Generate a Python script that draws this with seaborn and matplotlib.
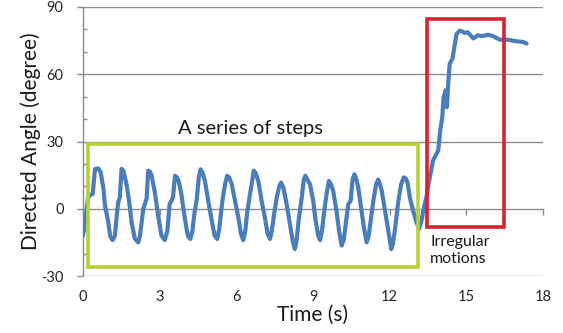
import matplotlib
matplotlib.use("Agg")
import matplotlib.pyplot as plt
import seaborn as sns
import pandas as pd
from matplotlib.patches import Rectangle
from matplotlib.ticker import MultipleLocator

# ---- data ----
time_s = [0.0, 0.1, 0.2, 0.27, 0.38, 0.47, 0.6, 0.69, 0.8, 0.86, 0.99, 1.06, 1.16, 1.25,
          1.32, 1.38, 1.44, 1.51, 1.58, 1.71, 1.81, 1.9, 2.03, 2.16, 2.23, 2.36, 2.49,
          2.55, 2.62, 2.68, 2.81, 2.94, 3.07, 3.2, 3.3, 3.39, 3.52, 3.6, 3.68, 3.75,
          3.85, 3.98, 4.1, 4.2, 4.28, 4.36, 4.45, 4.53, 4.6, 4.68, 4.77, 4.9, 5.05,
          5.15, 5.25, 5.33, 5.4, 5.46, 5.56, 5.64, 5.72, 5.82, 5.95, 6.08, 6.18, 6.27,
          6.35, 6.42, 6.5, 6.6, 6.68, 6.75, 6.86, 6.99, 7.12, 7.22, 7.32, 7.4, 7.47,
          7.58, 7.68, 7.75, 7.84, 7.97, 8.1, 8.2, 8.29, 8.36, 8.44, 8.56, 8.64, 8.7,
          8.8, 8.88, 9.01, 9.1, 9.2, 9.28, 9.36, 9.43, 9.53, 9.62, 9.7, 9.79, 9.92,
          10.02, 10.12, 10.2, 10.3, 10.38, 10.47, 10.55, 10.62, 10.7, 10.77, 10.9,
          11.0, 11.1, 11.18, 11.26, 11.36, 11.47, 11.55, 11.62, 11.69, 11.82, 11.95,
          12.06, 12.12, 12.2, 12.34, 12.45, 12.55, 12.63, 12.7, 12.79, 12.92, 13.05,
          13.15, 13.25, 13.35, 13.44, 13.57, 13.7, 13.9, 13.98, 14.06, 14.11, 14.19,
          14.24, 14.29, 14.35, 14.46, 14.53, 14.62, 14.75, 14.85, 14.94, 15.05, 15.15,
          15.27, 15.46, 15.6, 15.86, 16.05, 16.31, 16.64, 16.97, 17.23, 17.36]
angle_deg = [-12, -4, 5, 6, 6.7, 17.8, 18, 16.3, 9, 1.5, -6, -12, -14, -12,
             -3, 3, 5, 17.8, 17, 10.4, 3, -6, -13.4, -15, -12, 0, 4.5,
             17, 16.5, 15, 7.4, -3, -12, -14, -10, 2, 5, 14.7, 14, 12,
             6.5, -4, -12, -13.5, -10, -2, 4, 14, 17.6, 16, 12.4, 3.5, -6,
             -12, -13.5, -9, -2, 4, 11, 14.7, 14, 11, 3.5, -4, -11, -14,
             -10, -2, 4, 11, 17, 16, 12.4, 3.5, -4, -11, -13.5, -9, -3,
             5, 10, 11.7, 9.5, 2, -7, -14, -18, -14, -5, 5, 13, 14.7,
             12.5, 11, 3.5, -5, -12, -14, -9, -2, 6.5, 12.4, 11, 8, -1,
             -10, -16.4, -14, -5, 2, 3.5, 13, 15.4, 13, 9.5, -1,
             -9, -15, -12, -5, 3.5, 11, 13, 11, 8, -1, -10,
             -18, -16, -10, 3.5, 11, 14, 13.5, 11.7, 5, -1, -6,
             -9, -5, 1, 5.2, 14, 21.6, 26, 35, 41, 49.8, 52.8,
             45.3, 55.8, 64.7, 67, 72, 78, 79.5, 79, 78.4, 78.8, 77.5,
             76, 77.4, 77, 77.6, 77, 75.4, 75.4, 74.7, 74.4, 73.7]

x_ticks = [0, 3, 6, 9, 12, 15, 18]
y_ticks = [-30, 0, 30, 60, 90]

df = pd.DataFrame({"Time (s)": time_s, "Directed Angle (degree)": angle_deg})

sns.set_theme(style="white")
plt.rcParams["font.family"] = ["Lato", "DejaVu Sans"]
plt.rcParams["axes.unicode_minus"] = False

fig = plt.figure(figsize=(5.63, 3.33), dpi=100)
ax = fig.add_axes([83 / 563, 1 - 276 / 333, (543 - 83) / 563, (276 - 7) / 333])

grid_col = "#8c8c8c"
sns.lineplot(data=df, x="Time (s)", y="Directed Angle (degree)", ax=ax,
             color="#4a7ebb", linewidth=3.0, sort=False, zorder=3)

ax.set_xlim(0, 18)
ax.set_ylim(-30, 90)
ax.set_xticks(x_ticks)
ax.set_yticks(y_ticks)
ax.yaxis.set_minor_locator(MultipleLocator(10))

for yv in [-30, 30, 60, 90]:
    ax.axhline(yv, color=grid_col, linewidth=1.0, zorder=1)

ax.spines["top"].set_visible(False)
ax.spines["right"].set_visible(False)
ax.spines["left"].set_color(grid_col)
ax.spines["left"].set_linewidth(1.0)
ax.spines["bottom"].set_position(("data", 0))
ax.spines["bottom"].set_color(grid_col)
ax.spines["bottom"].set_linewidth(1.0)

ax.tick_params(axis="x", which="major", direction="out", length=4, width=1,
               color=grid_col, labelbottom=False, bottom=True)
ax.tick_params(axis="y", which="major", direction="out", length=4, width=1,
               color=grid_col, labelsize=10.5, labelcolor="#262626", pad=10, left=True)
ax.tick_params(axis="y", which="minor", direction="in", length=3, width=1,
               color=grid_col, left=True)

sec = ax.secondary_xaxis("bottom")
sec.set_xticks(x_ticks)
sec.spines["bottom"].set_visible(False)
sec.tick_params(axis="x", length=0, pad=10, labelsize=10.5, labelcolor="#262626")
sec.set_xlabel("Time (s)", fontsize=15, color="#1a1a1a", labelpad=1)

ax.set_xlabel("")
ax.set_ylabel("Directed Angle (degree)", fontsize=15, color="#1a1a1a", labelpad=0)

# annotation boxes
ax.add_patch(Rectangle((0.18, -26.0), 13.1 - 0.18, 29.0 + 26.0, fill=False,
                       edgecolor="#b4d334", linewidth=2.6, zorder=4, clip_on=False))
ax.add_patch(Rectangle((13.45, -8.2), 16.47 - 13.45, 84.8 + 8.2, fill=False,
                       edgecolor="#da2130", linewidth=2.6, zorder=4, clip_on=False))

ax.text(6.57, 36.0, "A series of steps", fontsize=14.5, color="#1a1a1a",
        ha="center", va="center")
ax.text(13.58, -11.5, "Irregular\nmotions", fontsize=11.5, color="#1a1a1a",
        ha="left", va="top", linespacing=1.35)

fig.savefig("out.png", dpi=100)
